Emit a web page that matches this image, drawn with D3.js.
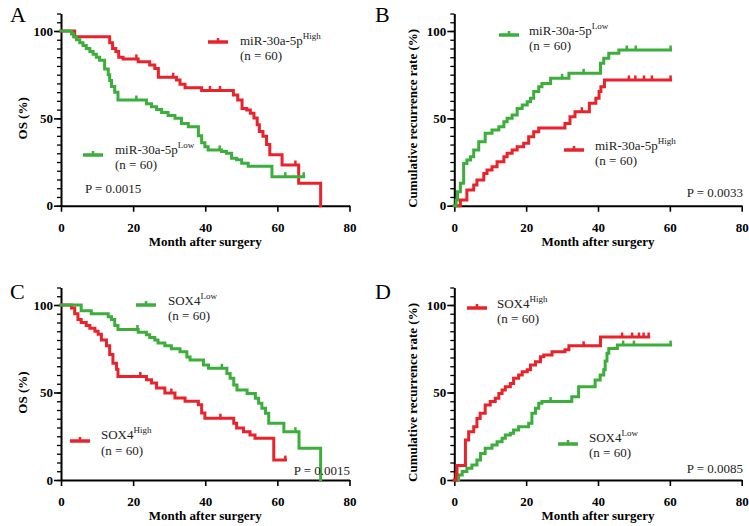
<!DOCTYPE html>
<html><head><meta charset="utf-8">
<script src="https://cdn.jsdelivr.net/npm/d3@7"></script>
<style>
html,body{margin:0;padding:0;background:#fff;}
svg{display:block;}
text{font-family:"Liberation Serif","Times New Roman",serif;}
</style></head>
<body>
<svg id="chart" width="749" height="526"></svg>
<script>
// ---------- DATA (time in months, value in %) ----------
const xTicks = [0, 20, 40, 60, 80];
const yTicks = [0, 50, 100];

// Panel A: OS by miR-30a-5p
const aHigh = [[0,100],[3.8,96.7],[13.5,93.3],[14.3,90],[15.2,88.3],[16,85],[17.2,84],[21.4,82.4],[24.6,80.5],[26,78.5],[27,73.5],[32,72],[33,69.5],[34.4,67.5],[39,66],[47.8,63.3],[49,60.5],[50.2,55.7],[51.5,54.8],[52.5,52.9],[53.5,50.2],[54.4,46.3],[55,42.5],[56,39.7],[57,35],[57.9,29.2],[61.3,23.3],[65.9,12.8],[72,0]];
const aLow = [[0,100],[2.9,98.3],[3.5,96.7],[4.3,95],[5.2,93.3],[6.1,91.7],[7,90],[8,88.3],[8.9,86.7],[9.8,85],[10.7,83.3],[12.1,78.3],[13.1,75],[13.5,71.7],[14,68.3],[14.9,65],[15.8,60.5],[23.7,58.3],[25.1,56.7],[26.5,55],[27.9,53.3],[29.7,51.7],[31.6,50],[33.4,47],[35.3,45.2],[38.1,40],[39,36],[39.9,33.7],[40.8,31.9],[44.5,31],[45.9,30],[47.3,27.1],[48.7,26.3],[50.1,24.3],[51.9,22.6],[58.5,16.6],[67.3,16.6]];
const aHighCens = [20.9, 31.1, 41.3, 44.1, 65];
const aLowCens = [20.9, 44, 62.2, 67.3];

// Panel B: cumulative recurrence by miR-30a-5p
const bLow = [[0,0],[0.5,3.3],[0.9,8],[1.7,12.8],[2.6,24.2],[3.5,26.1],[4.5,28],[5.4,31.9],[6.8,36.6],[8.6,41.4],[10.5,43.3],[12.4,45.2],[13.8,48.1],[14.7,50],[16.1,51.9],[17.5,55.7],[18.9,57.6],[20.3,59.5],[21.2,61.5],[22.1,65.3],[23.5,68.1],[24.4,70],[26.8,72.9],[31.9,75.8],[40.7,81.5],[41.6,84.4],[43,87.2],[45.8,89.1],[60.2,89.1]];
const bHigh = [[0,0],[1.7,3.3],[3.5,9],[5.4,11.8],[6.3,14.7],[8.2,18.5],[9.1,20.4],[10.5,22.3],[11.9,25.2],[13.8,28],[14.7,30],[16.1,31.9],[17.5,33.8],[19.3,35.7],[20.7,39.5],[22.1,42.4],[23.5,44.5],[30.8,47.1],[32.2,50.9],[33.6,53.8],[37.6,58.6],[39.4,61.5],[40.3,65.3],[40.8,68.1],[41.8,72],[60.2,72]];
const bLowCens = [30, 36, 48, 50.5, 60.2];
const bHighCens = [35.5, 48.6, 50.4, 52.8, 55, 60.2];

// Panel C: OS by SOX4
const cLow = [[0,100],[5.6,96.7],[8.4,95],[13.1,93.3],[14,91.7],[14.9,88.3],[15.8,86],[21.4,84.5],[23.7,83],[24.6,81.5],[26,80],[26.9,78.3],[28.8,76.7],[30.6,75],[33,73.3],[34.9,70.3],[35.8,68.6],[39.5,65.7],[40.9,63.8],[46,60.9],[46.9,58.1],[47.9,54.3],[48.8,51.4],[51.6,49.5],[53.9,46.7],[54.8,43.8],[55.7,41],[56.7,38.1],[57.6,32.4],[61.8,27.6],[66,18.1],[72,0]];
const cHigh = [[0,100],[2.9,98.3],[3.8,95],[4.7,91.7],[5.6,90],[7,88.3],[8,86.7],[9.4,85],[10.3,83.3],[11.2,80],[12.6,76.7],[13.5,71.7],[14.4,66.7],[15.4,63.3],[15.8,59.2],[23.7,57.3],[25.1,55.4],[26.5,52.6],[28.8,49.7],[31.6,46.9],[34.4,45],[38.1,43],[39,38.3],[39.9,35.3],[47.9,32.4],[48.7,29.7],[50.6,27.6],[52.4,25.7],[53.8,23.8],[59,11.4],[62.2,11.4]];
const cLowCens = [21.2, 44.6, 65];
const cHighCens = [22, 30.6, 44.2, 62.2];

// Panel D: cumulative recurrence by SOX4
const dHigh = [[0,0],[0.5,3.3],[0.75,8.3],[3.1,22.9],[4,27.6],[5.4,30.5],[6.3,35.2],[7.2,38.1],[8.6,42.9],[10,44.8],[11.4,46.7],[12.4,49.5],[13.3,51.4],[14.2,53.3],[15.6,55.2],[16.5,58.1],[17.9,60],[18.9,61.9],[20.3,63],[21.2,65.7],[22.6,67.6],[24,70.5],[24.9,71.4],[27.2,73.3],[30.8,74.5],[31.9,76.7],[40.7,81.7],[54.1,81.7]];
const dLow = [[0,0],[1.2,2.9],[2.2,4.8],[3.5,6.7],[4.9,8.6],[6.3,11.4],[7.3,15.2],[8.6,18.1],[10.5,20],[11.9,21.9],[13.3,23.8],[14.2,25.7],[15.6,26.7],[16.5,28.6],[17.9,30.5],[20.7,32.4],[21.6,38.1],[22.6,41],[23.5,43.8],[24.4,44.8],[32.7,47.6],[34.6,53.3],[39.2,57.1],[40.6,60],[41.6,63],[42,68],[42.5,72.4],[43,75.2],[45.4,77.1],[60.2,77.1]];
const dHighCens = [36, 46.7, 49.5, 51.4, 52.7, 54.1];
const dLowCens = [26.8, 47, 50, 60.2];

const RED = "#e8232b", GREEN = "#3bae3b";

// ---------- LAYOUT ----------
const panels = [
  {letter:"A", lx:10, ly:22, x0:61, x1:349.5, y0:205.7, y100:31, ylab:"OS (%)", ylabX:23,
   series:[{d:aHigh,c:RED,cens:aHighCens},{d:aLow,c:GREEN,cens:aLowCens}],
   legends:[{c:RED,lx:208,ly:42,tx:240,ty1:45,ty2:60,name:"miR-30a-5p",sup:"High"},
            {c:GREEN,lx:83,ly:155,tx:115,ty1:154,ty2:169,name:"miR-30a-5p",sup:"Low"}],
   p:{text:"P = 0.0015",x:85,y:193,anchor:"start"}},
  {letter:"B", lx:375, ly:22, x0:454.3, x1:741.7, y0:205.7, y100:31, ylab:"Cumulative recurrence rate (%)", ylabX:413,
   series:[{d:bHigh,c:RED,cens:bHighCens},{d:bLow,c:GREEN,cens:bLowCens}],
   legends:[{c:GREEN,lx:499,ly:35,tx:529,ty1:35,ty2:50,name:"miR-30a-5p",sup:"Low"},
            {c:RED,lx:564,ly:150,tx:595,ty1:150,ty2:165,name:"miR-30a-5p",sup:"High"}],
   p:{text:"P = 0.0033",x:743,y:197,anchor:"end"}},
  {letter:"C", lx:10, ly:299, x0:61, x1:349.5, y0:480, y100:305, ylab:"OS (%)", ylabX:23,
   series:[{d:cHigh,c:RED,cens:cHighCens},{d:cLow,c:GREEN,cens:cLowCens}],
   legends:[{c:GREEN,lx:136,ly:305,tx:168,ty1:305,ty2:320,name:"SOX4",sup:"Low"},
            {c:RED,lx:70,ly:441,tx:101,ty1:439,ty2:455,name:"SOX4",sup:"High"}],
   p:{text:"P = 0.0015",x:350,y:475,anchor:"end"}},
  {letter:"D", lx:375, ly:299, x0:454.3, x1:741.7, y0:480, y100:305, ylab:"Cumulative recurrence rate (%)", ylabX:413,
   series:[{d:dLow,c:GREEN,cens:dLowCens},{d:dHigh,c:RED,cens:dHighCens}],
   legends:[{c:RED,lx:467,ly:308,tx:497,ty1:308,ty2:323,name:"SOX4",sup:"High"},
            {c:GREEN,lx:558,ly:444,tx:589,ty1:442,ty2:457,name:"SOX4",sup:"Low"}],
   p:{text:"P = 0.0085",x:743,y:473,anchor:"end"}}
];

const svg = d3.select("#chart");

function stepValue(d, t){
  let v = d[0][1];
  for (const p of d){ if (p[0] <= t) v = p[1]; else break; }
  return v;
}

panels.forEach(P => {
  const g = svg.append("g");
  const k = (P.y0 - P.y100)/100;
  const x = d3.scaleLinear().domain([0,80]).range([P.x0, P.x1]);
  const y = d3.scaleLinear().domain([0,110]).range([P.y0, P.y0 - 110*k]);

  g.append("text").attr("x", P.lx).attr("y", P.ly).attr("font-size", 22).text(P.letter);

  const yMinor = g.append("g").attr("transform", `translate(${P.x0},0)`)
    .call(d3.axisLeft(y).tickValues(d3.range(0,111,5)).tickSize(4).tickSizeOuter(0).tickFormat(""));
  yMinor.select(".domain").attr("stroke-width", 2);
  yMinor.selectAll(".tick line").attr("stroke-width", 1.3);

  const yMajor = g.append("g").attr("transform", `translate(${P.x0},0)`)
    .call(d3.axisLeft(y).tickValues(yTicks).tickSize(7).tickPadding(1).tickSizeOuter(0));
  yMajor.select(".domain").remove();
  yMajor.selectAll(".tick line").attr("stroke-width", 1.6);
  yMajor.selectAll("text").attr("font-size", 13).attr("font-weight", "bold")
    .attr("font-family", "Liberation Serif, serif");

  const xAx = g.append("g").attr("transform", `translate(0,${P.y0})`)
    .call(d3.axisBottom(x).tickValues(xTicks).tickSize(6).tickPadding(11).tickSizeOuter(0));
  xAx.select(".domain").attr("stroke-width", 2);
  xAx.selectAll(".tick line").attr("stroke-width", 1.6);
  xAx.selectAll("text").attr("font-size", 13).attr("font-weight", "bold")
    .attr("font-family", "Liberation Serif, serif");

  g.append("text").attr("x", (P.x0+P.x1)/2).attr("y", P.y0 + 40)
    .attr("text-anchor", "middle").attr("font-size", 13).attr("font-weight", "bold")
    .text("Month after surgery");
  g.append("text").attr("transform", `translate(${P.ylabX + 4},${P.y0 - 50*k}) rotate(-90)`)
    .attr("text-anchor", "middle").attr("font-size", 13).attr("font-weight", "bold")
    .text(P.ylab);

  const line = d3.line().x(d => x(d[0])).y(d => y(d[1])).curve(d3.curveStepAfter);
  P.series.forEach(s => {
    g.append("path").attr("d", line(s.d)).attr("fill", "none")
      .attr("stroke", s.c).attr("stroke-width", 3).attr("stroke-linejoin", "miter").attr("stroke-linecap", "square");
    g.selectAll(null).data(s.cens).enter().append("line")
      .attr("x1", t => x(t)).attr("x2", t => x(t))
      .attr("y1", t => y(stepValue(s.d, t)) - 4.5)
      .attr("y2", t => y(stepValue(s.d, t)) + 1)
      .attr("stroke", s.c).attr("stroke-width", 2.5);
  });

  P.legends.forEach(L => {
    g.append("line").attr("x1", L.lx).attr("x2", L.lx + 20).attr("y1", L.ly).attr("y2", L.ly)
      .attr("stroke", L.c).attr("stroke-width", 3.5);
    g.append("line").attr("x1", L.lx + 10).attr("x2", L.lx + 10).attr("y1", L.ly - 4).attr("y2", L.ly)
      .attr("stroke", L.c).attr("stroke-width", 2.5);
    const t = g.append("text").attr("x", L.tx).attr("y", L.ty1).attr("font-size", 13).attr("fill", "#222");
    t.append("tspan").text(L.name);
    t.append("tspan").attr("dy", -6).attr("font-size", 9).text(L.sup);
    g.append("text").attr("x", L.tx).attr("y", L.ty2).attr("font-size", 13).attr("fill", "#222").text("(n = 60)");
  });

  g.append("text").attr("x", P.p.x).attr("y", P.p.y).attr("text-anchor", P.p.anchor)
    .attr("font-size", 13).attr("fill", "#222").text(P.p.text);
});
</script>
</body></html>
